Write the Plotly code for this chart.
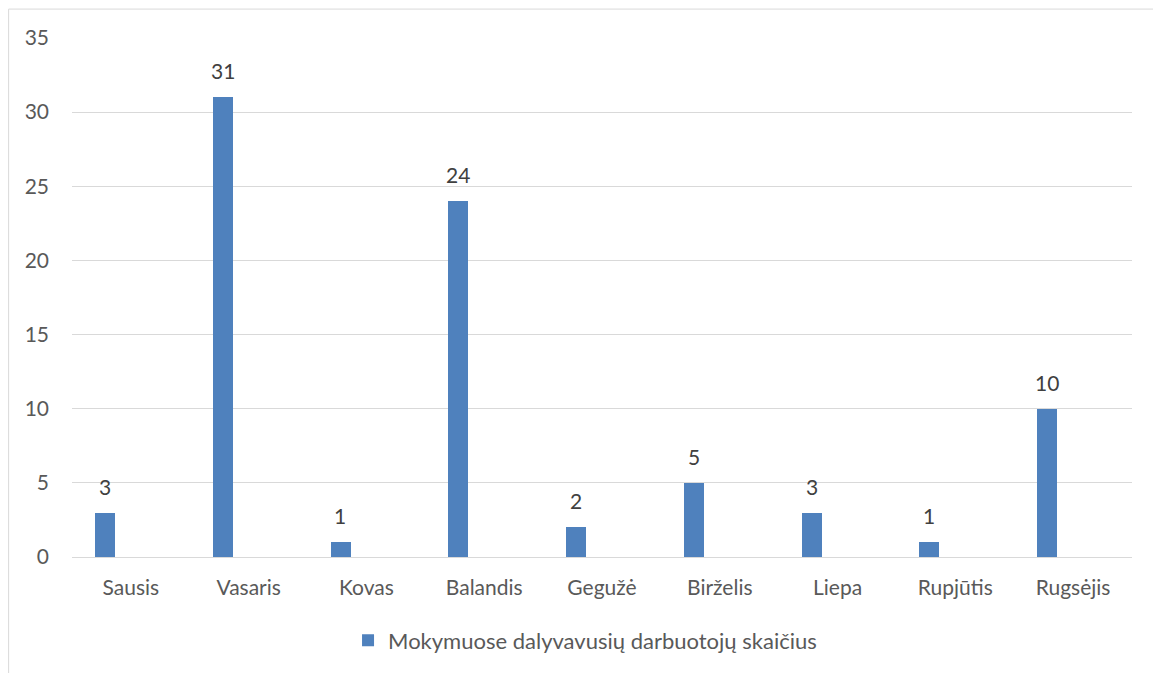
import plotly.graph_objects as go

months = ["Sausis", "Vasaris", "Kovas", "Balandis", "Gegužė",
          "Birželis", "Liepa", "Rupjūtis", "Rugsėjis"]
counts = [3, 31, 1, 24, 2, 5, 3, 1, 10]
series_name = "Mokymuose dalyvavusių darbuotojų skaičius"
y_ticks = [0, 5, 10, 15, 20, 25, 30, 35]

font = "Lato, 'Open Sans', sans-serif"

fig = go.Figure()
fig.add_trace(go.Bar(
    x=months, y=counts, name=series_name,
    marker=dict(color="#4f81bd", line=dict(width=0)),
    width=0.17, offset=-0.305,
    showlegend=True,
))

# value labels above the bars
labels = [dict(x=m, y=v, text=str(v), showarrow=False, xshift=-26, yshift=12,
               yanchor="bottom", font=dict(size=21, color="#404040", family=font))
          for m, v in zip(months, counts)]

# page body has an 8px margin, so the figure is sized to fit inside it
fig.update_layout(
    width=1153, height=665,
    margin=dict(l=64, r=29, t=30, b=114),
    paper_bgcolor="white", plot_bgcolor="white",
    font=dict(family=font, size=21, color="#595959"),
    bargap=0,
    showlegend=True,
    annotations=labels,
    legend=dict(orientation="h", x=0.484, xanchor="center", y=-0.161, yanchor="middle",
                font=dict(size=22, color="#595959"), itemwidth=30),
    shapes=[dict(type="rect", xref="paper", yref="paper",
                 x0=-0.0598, x1=1.0264, y0=-0.35, y1=1.0557,
                 line=dict(color="#d9d9d9", width=1), fillcolor="rgba(0,0,0,0)",
                 layer="below")],
)
fig.update_xaxes(showgrid=False, showline=False, ticks="", ticklabelstandoff=16,
                 tickfont=dict(size=21, color="#595959"))
fig.update_yaxes(range=[0, 35], tickvals=y_ticks, showgrid=True,
                 gridcolor="#d9d9d9", gridwidth=1, zeroline=True,
                 zerolinecolor="#d9d9d9", zerolinewidth=1, showline=False,
                 ticks="", ticklabelstandoff=22,
                 tickfont=dict(size=21, color="#595959"))

fig.write_html("out.html")
